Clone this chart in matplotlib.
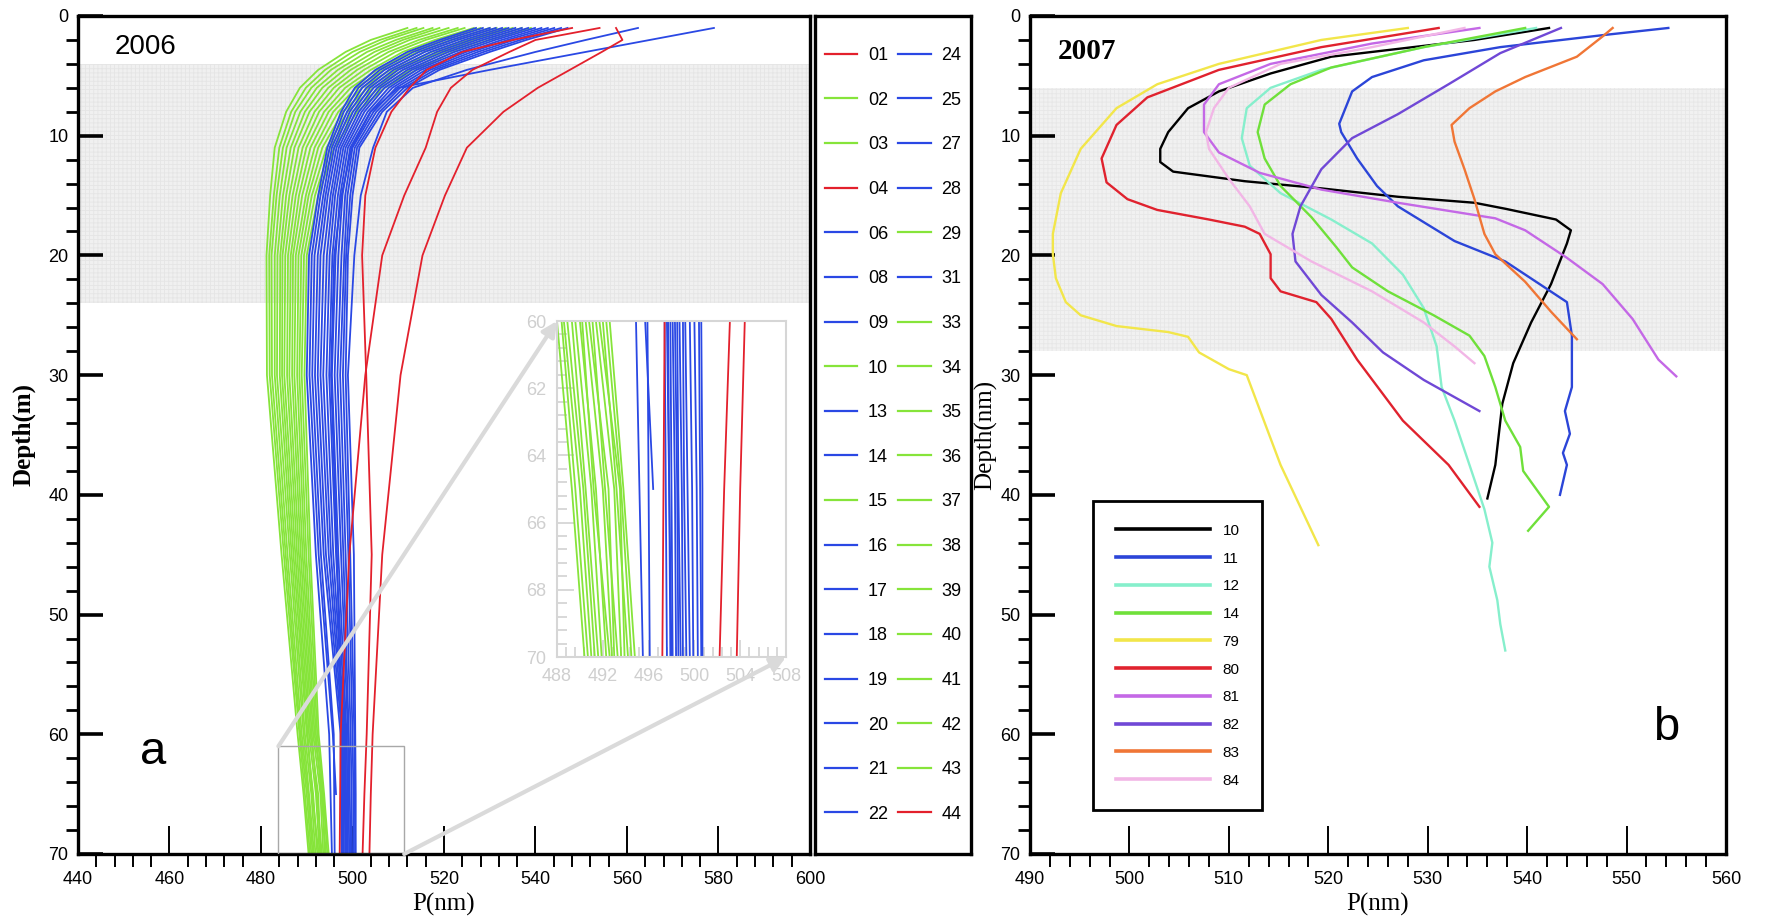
import numpy as np
import matplotlib
matplotlib.use("Agg")
import matplotlib.pyplot as plt
from matplotlib.lines import Line2D
from matplotlib.patches import ConnectionPatch, Rectangle
from matplotlib.ticker import MultipleLocator

plt.rcParams["font.family"] = ["Liberation Sans", "DejaVu Sans"]
plt.rcParams["hatch.linewidth"] = 0.6

# ---------------- 2006 (panel a): P(nm) on a shared depth grid ----------------
depth_06 = [1, 2, 3, 4.5, 6, 8, 11, 15, 20, 30, 45, 60, 65, 70]

stations_red = ["01", "04", "44"]
p_red = [
    [557.6, 559.0, 554.5, 547.5, 540.5, 533.0, 525.0, 520.2, 515.3, 510.5, 506.5, 504.4, 504.0, 503.7],
    [554.0, 540.0, 534.3, 526.2, 521.5, 518.5, 516.0, 511.3, 506.5, 502.8, 499.3, 497.4, 497.3, 497.2],
    [548.0, 535.0, 524.0, 516.2, 512.5, 508.5, 505.0, 502.8, 502.1, 503.0, 504.2, 503.1, 502.6, 502.2],
]

stations_green = ["02", "03", "10", "15", "29", "33", "34", "35",
                  "36", "37", "38", "39", "40", "41", "42", "43"]
p_green = [
    [528.0, 519.5, 512.6, 505.4, 499.6, 494.8, 490.8, 488.3, 486.5, 486.2, 488.3, 490.8, 492.5, 493.0],
    [517.5, 509.5, 503.2, 496.8, 492.2, 488.6, 485.6, 484.1, 483.0, 483.0, 485.8, 488.9, 490.3, 491.3],
    [533.5, 525.0, 517.3, 509.7, 503.3, 497.9, 493.4, 490.4, 488.2, 487.9, 489.5, 491.7, 493.5, 493.9],
    [523.0, 514.5, 507.9, 501.0, 495.9, 491.7, 488.2, 486.2, 484.7, 484.6, 487.1, 490.0, 491.4, 492.3],
    [537.0, 528.5, 520.4, 512.6, 505.8, 500.0, 495.1, 491.8, 489.4, 488.9, 490.4, 492.3, 493.6, 494.5],
    [512.0, 504.0, 498.5, 492.5, 488.5, 485.5, 483.0, 482.0, 481.2, 481.3, 484.5, 488.0, 489.3, 490.4],
    [524.5, 516.0, 509.4, 502.5, 497.1, 492.7, 489.1, 486.9, 485.3, 485.1, 487.5, 490.2, 491.2, 492.6],
    [515.5, 507.5, 501.6, 495.3, 491.0, 487.5, 484.8, 483.4, 482.3, 482.4, 485.4, 488.6, 490.0, 491.0],
    [530.0, 521.5, 514.2, 506.8, 500.8, 495.8, 491.7, 489.0, 487.0, 486.8, 488.7, 491.1, 492.2, 493.3],
    [521.0, 512.5, 506.3, 499.6, 494.7, 490.6, 487.3, 485.5, 484.2, 484.1, 486.7, 489.6, 491.0, 491.9],
    [535.0, 526.5, 518.9, 511.1, 504.5, 498.9, 494.3, 491.1, 488.8, 488.4, 489.9, 492.0, 493.2, 494.2],
    [514.0, 506.0, 500.0, 494.0, 489.8, 486.6, 484.0, 482.8, 481.8, 481.9, 485.0, 488.4, 489.6, 490.7],
    [526.5, 518.0, 511.0, 504.0, 498.4, 493.8, 489.9, 487.6, 485.9, 485.7, 487.9, 490.5, 492.0, 492.8],
    [531.5, 523.0, 515.7, 508.3, 502.1, 496.9, 492.5, 489.8, 487.6, 487.3, 489.1, 491.4, 493.0, 493.6],
    [519.0, 511.0, 504.8, 498.2, 493.4, 489.6, 486.5, 484.8, 483.6, 483.5, 486.3, 489.3, 490.5, 491.6],
    [539.0, 530.0, 522.0, 514.0, 507.0, 501.0, 496.0, 492.5, 490.0, 489.5, 490.8, 492.6, 493.8, 494.8],
]

stations_blue = ["06", "08", "09", "13", "14", "16", "17", "18", "19",
                 "20", "21", "22", "24", "25", "27", "28", "31"]
p_blue = [
    [537.0, 528.5, 521.0, 512.0, 506.2, 502.0, 498.0, 496.2, 495.0, 494.3, 495.8, 498.3, 498.5, 498.6],
    [531.3, 523.0, 515.8, 508.0, 503.0, 499.4, 496.0, 494.1, 492.4, 491.8, 493.7, 497.4, 497.5, 497.6],
    [542.7, 533.9, 526.1, 516.0, 509.5, 504.6, 500.0, 498.4, 497.6, 496.7, 498.0, 499.2, 499.4, 499.6],
    [579.0, 565.0, 551.0, 530.0, 510.0, 504.0, 499.8, 497.6, 496.0, 495.3, 496.6, 497.6, 497.8, 498.0],
    [534.1, 525.8, 518.4, 510.0, 504.6, 500.7, 497.0, 495.2, 493.7, 493.0, 494.8, 497.9, 498.0, 498.1],
    [539.9, 531.2, 523.6, 514.0, 507.9, 503.3, 499.0, 497.3, 496.3, 495.5, 496.9, 498.7, 498.9, 499.0],
    [527.0, 519.0, 512.0, 505.0, 500.5, 497.5, 494.5, 492.5, 490.5, 490.0, 492.0, 494.9, 495.2, 495.5],
    [544.1, 535.3, 527.4, 517.0, 510.4, 505.2, 500.5, 498.9, 498.2, 497.3, 498.5, 499.6, 499.8, 499.9],
    [535.6, 527.2, 519.7, 511.0, 505.4, 501.4, 497.5, 495.7, 494.4, 493.6, 495.3, 498.1, 498.3, 498.4],
    [547.0, 538.0, 530.0, 519.0, 512.0, 506.5, 501.5, 500.0, 499.0, 498.5, 499.5, 500.4, 500.5, 500.6],
    [562.4, 551.0, 540.0, 525.0, 513.2, 507.5, 504.5, 501.8, 500.4, 499.0, 500.3, 500.6, 500.7, 500.7],
    [530.0, 521.7, 514.6, 507.0, 502.1, 498.8, 495.5, 493.6, 491.7, 491.2, 493.1, 495.9, 496.0, 496.1],
    [538.4, 529.9, 522.3, 513.0, 507.0, 502.6, 498.5, 496.8, 495.6, 494.9, 496.4, 498.5, 498.6, 498.8],
    [545.6, 536.7, 528.7, 518.0, 511.2, 505.9, 501.0, 499.5, 498.6, 497.9, 499.1, 500.0, 500.2, 500.3],
    [532.7, 524.4, 517.1, 509.0, 503.8, 500.1, 496.5, 494.6, 493.0, 492.4, 494.2, 497.7, 497.8, 497.9],
    [528.5, 520.3, 513.3, 506.0, 501.3, 498.1, 495.0, 493.0, 491.1, 490.6, 492.6, 495.7, 496.4, np.nan],
    [541.3, 532.6, 524.9, 515.0, 508.7, 503.9, 499.5, 497.8, 496.9, 496.1, 497.5, 499.0, 499.1, 499.3],
]

# ---------------- 2007 (panel b): one depth list per station ----------------
d_10 = [1.0, 2.0, 3.4, 4.8, 6.3, 7.7, 9.7, 11.1, 12.2, 13.0, 13.8, 14.4, 15.1, 15.6, 16.1,
        17.0, 17.9, 19.0, 22.4, 25.6, 29.0, 32.4, 37.5, 40.3]
p_10 = [542.2, 534.7, 520.3, 514.2, 509.0, 505.9, 503.9, 503.1, 503.1, 504.4, 511.6, 519.3, 527.0,
        534.7, 537.8, 542.9, 544.4, 544.0, 542.4, 540.4, 538.6, 537.5, 536.8, 536.0]
d_11 = [1.0, 1.6, 2.6, 3.7, 5.1, 6.3, 9.0, 9.7, 11.9, 14.2, 15.9, 18.8, 20.5, 23.9, 26.7, 31.0,
        33.0, 34.9, 36.5, 37.5, 40.0]
p_11 = [554.2, 547.6, 537.3, 529.6, 524.4, 522.4, 521.1, 521.3, 522.9, 524.9, 527.0, 532.7, 537.8,
        544.0, 544.5, 544.5, 543.8, 544.3, 543.6, 544.0, 543.3]
d_12 = [1.0, 2.6, 4.5, 6.0, 7.7, 10.2, 12.5, 14.8, 17.0, 19.0, 21.6, 24.4, 27.6, 31.0, 33.8, 37.5,
        41.2, 44.0, 46.0, 48.8, 50.8, 53.0]
p_12 = [540.9, 529.6, 519.3, 514.2, 511.8, 511.3, 512.1, 515.2, 520.3, 524.4, 527.5, 529.6, 530.9,
        531.4, 532.7, 534.2, 535.7, 536.5, 536.2, 537.0, 537.3, 537.8]
d_14 = [1.0, 2.6, 4.3, 5.7, 7.4, 9.7, 11.9, 14.2, 16.8, 19.3, 21.0, 23.0, 25.0, 26.7, 28.4, 31.0,
        33.8, 36.0, 38.0, 41.0, 43.0]
p_14 = [539.8, 529.6, 520.3, 516.2, 513.6, 512.9, 513.6, 515.2, 518.3, 520.8, 522.4, 526.0, 530.6,
        534.2, 535.7, 536.8, 537.8, 539.3, 539.6, 542.2, 540.1]
d_79 = [1.0, 2.0, 4.0, 5.7, 7.7, 11.1, 14.8, 18.2, 19.9, 21.9, 23.9, 25.0, 25.9, 26.4, 26.8, 28.1,
        29.5, 30.0, 37.5, 44.2]
p_79 = [528.0, 519.3, 509.0, 502.8, 498.7, 495.1, 493.1, 492.3, 492.3, 492.6, 493.6, 495.1, 498.7,
        503.9, 505.9, 507.0, 510.0, 511.8, 515.2, 519.0]
d_80 = [1.0, 2.6, 4.5, 6.8, 9.1, 11.9, 13.9, 15.3, 16.2, 17.0, 17.6, 18.2, 19.9, 21.9, 23.0, 23.9,
        25.3, 28.7, 33.8, 37.5, 41.0]
p_80 = [531.1, 519.3, 509.0, 501.8, 498.7, 497.2, 497.7, 499.8, 502.8, 508.0, 511.6, 513.1, 514.2,
        514.2, 515.2, 518.8, 520.3, 522.9, 527.5, 532.1, 535.2]
d_81 = [1.0, 2.3, 4.0, 5.7, 7.4, 9.7, 11.4, 13.1, 14.5, 15.6, 16.9, 17.9, 20.2, 22.4, 25.3, 28.7, 30.1]
p_81 = [535.2, 524.4, 514.2, 509.0, 507.5, 507.5, 509.0, 513.1, 519.3, 527.0, 536.8, 539.8, 544.0,
        547.6, 550.6, 553.2, 555.0]
d_82 = [1.0, 3.1, 5.7, 8.2, 10.2, 12.8, 15.9, 18.2, 20.5, 23.3, 25.6, 28.1, 30.4, 33.0]
p_82 = [543.4, 537.3, 532.1, 527.0, 522.4, 519.3, 517.2, 516.4, 516.7, 519.3, 522.4, 525.5, 529.6, 535.2]
d_83 = [1.0, 1.7, 3.4, 5.1, 6.3, 7.7, 9.1, 10.5, 12.8, 15.3, 18.2, 19.9, 22.2, 24.7, 27.0]
p_83 = [548.6, 547.6, 545.0, 539.8, 536.8, 534.2, 532.4, 532.7, 533.7, 534.7, 535.7, 536.8, 539.8,
        542.4, 545.0]
d_84 = [1.0, 2.6, 4.0, 6.0, 7.7, 9.7, 11.1, 13.6, 15.9, 18.2, 20.5, 23.0, 25.6, 27.6, 29.0]
p_84 = [533.7, 524.4, 515.2, 510.0, 508.5, 507.7, 508.0, 510.0, 512.1, 513.6, 518.3, 524.4, 529.6,
        532.7, 534.7]

stations_07 = ["10", "11", "12", "14", "79", "80", "81", "82", "83", "84"]
depths_07 = [d_10, d_11, d_12, d_14, d_79, d_80, d_81, d_82, d_83, d_84]
values_07 = [p_10, p_11, p_12, p_14, p_79, p_80, p_81, p_82, p_83, p_84]
colors_07 = ["#000000", "#2b45d8", "#86efcc", "#6fe03a", "#f2e64a",
             "#e0222e", "#c468e6", "#7048d6", "#f07636", "#f2b6e6"]

RED, GREEN, BLUE = "#e3202c", "#86e43a", "#2a48e4"
GRAY = "#d6d6d6"
W, H = 1781, 919
TOP, BOTTOM = 16, 854


def fx(px):
    return px / W


def fy(px):
    return 1 - px / H


def style_main(ax, xmaj, xmin):
    for s in ax.spines.values():
        s.set_linewidth(2.4)
    ax.xaxis.set_major_locator(MultipleLocator(xmaj))
    ax.xaxis.set_minor_locator(MultipleLocator(xmin))
    ax.yaxis.set_major_locator(MultipleLocator(10))
    ax.yaxis.set_minor_locator(MultipleLocator(2))
    ax.tick_params(direction="in", top=False, right=False, labelsize=13)
    ax.tick_params(axis="y", which="major", length=18, width=2.6, pad=7)
    ax.tick_params(axis="y", which="minor", length=9, width=2.0)
    ax.tick_params(axis="x", which="major", length=20, width=1.4, pad=12)
    ax.tick_params(axis="x", which="minor", length=9, width=1.4)
    ax.set_xlabel("P(nm)", family="Liberation Serif", fontsize=18, labelpad=4)


fig = plt.figure(figsize=(W / 100, H / 100), dpi=100)
ax_h = (BOTTOM - TOP) / H

# ---------------- panel a ----------------
ax1 = fig.add_axes([fx(78), fy(BOTTOM), fx(732), ax_h])
ax1.axhspan(4, 24, facecolor="#f0f0f0", edgecolor="#e5e5e5", hatch="++++", linewidth=0, zorder=0)

lines_06 = {}
for names, rows, col in [(stations_green, p_green, GREEN),
                         (stations_blue, p_blue, BLUE),
                         (stations_red, p_red, RED)]:
    for name, row in zip(names, rows):
        ax1.plot(row, depth_06, color=col, lw=1.3, zorder=2)
        lines_06[name] = col

ax1.set_xlim(440, 600)
ax1.set_ylim(70, 0)
style_main(ax1, 20, 4)
ax1.set_ylabel("Depth(m)", family="Liberation Serif", fontsize=18, fontweight="bold")
ax1.yaxis.set_label_coords(-0.058, 0.5)
ax1.text(448, 2.6, "2006", fontsize=20, va="center", ha="left")
ax1.text(456.5, 61.5, "a", fontsize=34, va="center", ha="center")
ax1.add_patch(Rectangle((483.8, 61), 27.5, 9, fill=False, edgecolor="#a8a8a8", lw=1.0, zorder=3))

# zoomed inset
axi = fig.add_axes([fx(557), fy(657), fx(229), 336 / H])
for names, rows, col in [(stations_green, p_green, GREEN),
                         (stations_blue, p_blue, BLUE),
                         (stations_red, p_red, RED)]:
    for row in rows:
        axi.plot(row, depth_06, color=col, lw=1.3)
axi.set_xlim(488, 508)
axi.set_ylim(70, 60)
for s in axi.spines.values():
    s.set_color(GRAY)
    s.set_linewidth(1.5)
axi.xaxis.set_major_locator(MultipleLocator(4))
axi.xaxis.set_minor_locator(MultipleLocator(0.8))
axi.yaxis.set_major_locator(MultipleLocator(2))
axi.yaxis.set_minor_locator(MultipleLocator(0.4))
axi.tick_params(which="both", direction="in", top=False, right=False, color=GRAY,
                labelcolor="#cfcfcf", labelsize=13, width=1.3)
axi.tick_params(which="major", length=12, pad=8)
axi.tick_params(which="minor", length=7)

for xa, xb in [((483.8, 61), (488, 60)), ((511.3, 70), (508, 70))]:
    con = ConnectionPatch(xyA=xa, coordsA=ax1.transData, xyB=xb, coordsB=axi.transData,
                          arrowstyle="-|>", color="#dadada", lw=3, mutation_scale=22, zorder=5)
    fig.add_artist(con)

# legend box for panel a
axl = fig.add_axes([fx(815), fy(BOTTOM), fx(156), ax_h])
axl.set_xticks([])
axl.set_yticks([])
for s in axl.spines.values():
    s.set_linewidth(2.4)
order_06 = sorted(lines_06)
handles = [Line2D([], [], color=lines_06[n], lw=1.6) for n in order_06]
axl.legend(handles, order_06, ncol=2, loc="center", frameon=False, fontsize=13,
           handlelength=1.8, handletextpad=0.6, columnspacing=0.55, labelspacing=1.53,
           borderaxespad=0)

# ---------------- panel b ----------------
ax2 = fig.add_axes([fx(1030), fy(BOTTOM), fx(696), ax_h])
ax2.axhspan(6, 28, facecolor="#f1f1f1", edgecolor="#e7e7e7", hatch="++++", linewidth=0, zorder=0)
handles_07 = []
for name, d, p, col in zip(stations_07, depths_07, values_07, colors_07):
    ax2.plot(p, d, color=col, lw=1.7, zorder=2)
    handles_07.append(Line2D([], [], color=col, lw=2.6))
ax2.set_xlim(490, 560)
ax2.set_ylim(70, 0)
style_main(ax2, 10, 2)
ax2.set_ylabel("Depth(nm)", family="Liberation Serif", fontsize=18)
ax2.yaxis.set_label_coords(-0.047, 0.5)
ax2.text(492.8, 3.0, "2007", family="Liberation Serif", fontweight="bold", fontsize=21,
         va="center", ha="left")
ax2.text(554, 59.5, "b", fontsize=34, va="center", ha="center")
leg = ax2.legend(handles_07, stations_07, loc="lower left", bbox_to_anchor=(0.09, 0.052),
                 borderaxespad=0, fontsize=11, handlelength=6.2, handletextpad=0.8,
                 labelspacing=0.9, borderpad=1.5, fancybox=False, framealpha=1)
leg.get_frame().set_edgecolor("black")
leg.get_frame().set_linewidth(2.0)

fig.savefig("out.png", dpi=100)
